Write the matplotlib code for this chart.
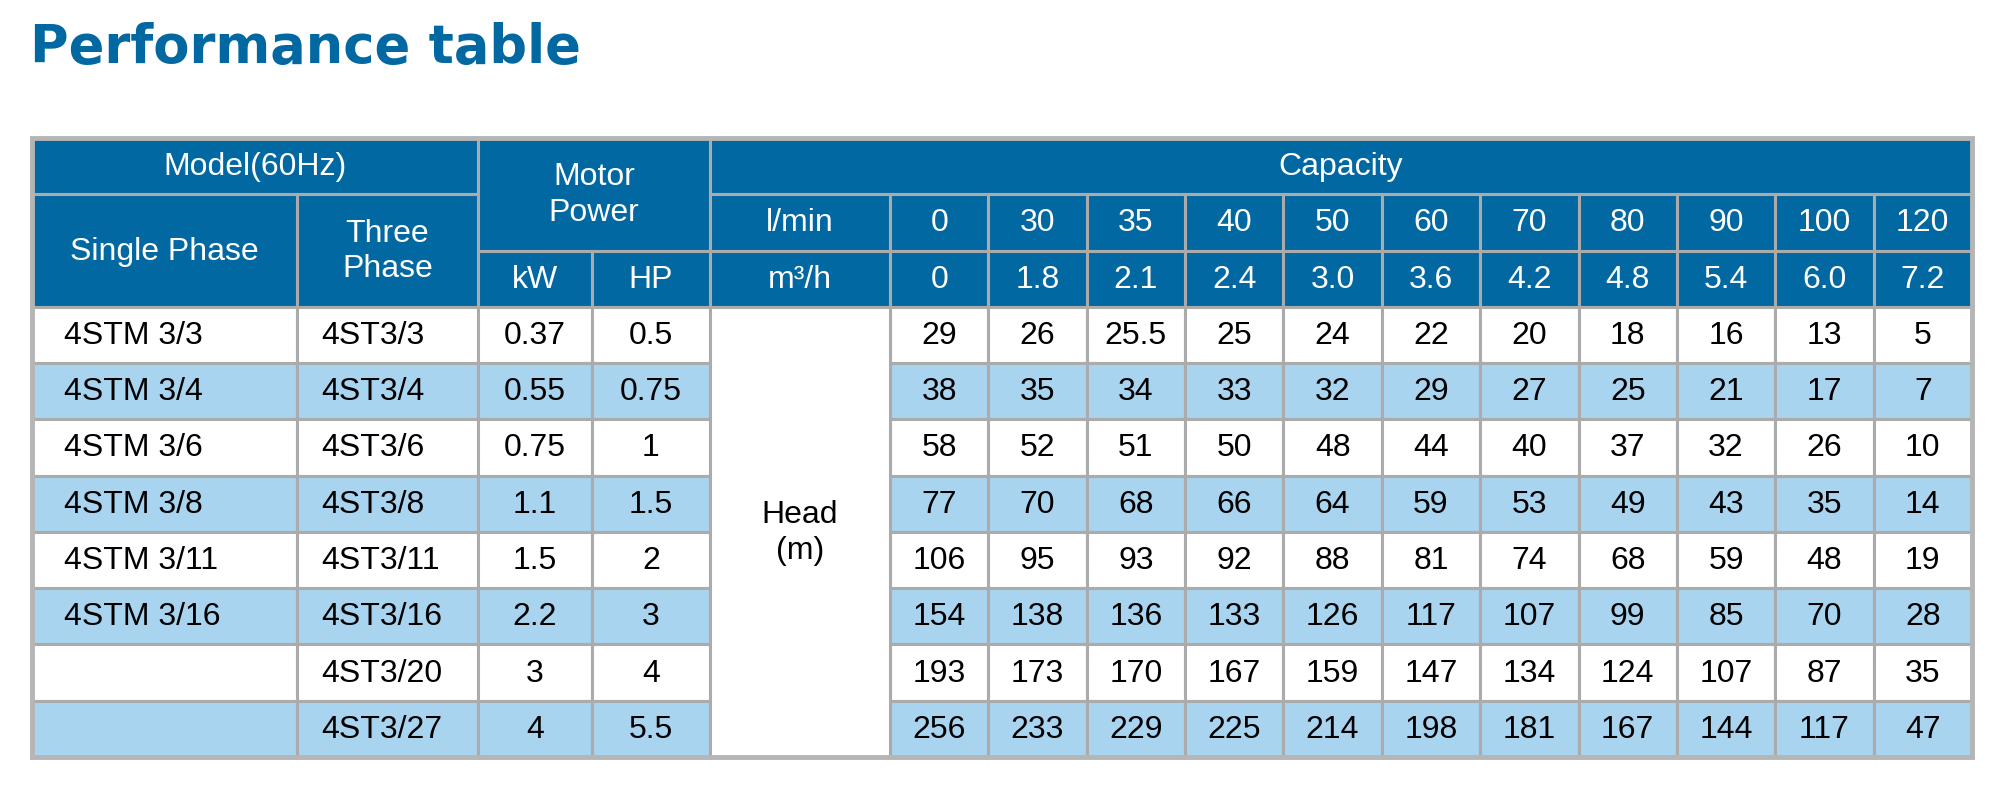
import matplotlib.pyplot as plt
from matplotlib.patches import Rectangle

# --- data ---
single_phase = ['4STM 3/3', '4STM 3/4', '4STM 3/6', '4STM 3/8',
                '4STM 3/11', '4STM 3/16', '', '']
three_phase = ['4ST3/3', '4ST3/4', '4ST3/6', '4ST3/8',
               '4ST3/11', '4ST3/16', '4ST3/20', '4ST3/27']
kw = ['0.37', '0.55', '0.75', '1.1', '1.5', '2.2', '3', '4']
hp = ['0.5', '0.75', '1', '1.5', '2', '3', '4', '5.5']
l_min = ['0', '30', '35', '40', '50', '60', '70', '80', '90', '100', '120']
m3_h = ['0', '1.8', '2.1', '2.4', '3.0', '3.6', '4.2', '4.8', '5.4', '6.0', '7.2']
head = [
    ['29', '26', '25.5', '25', '24', '22', '20', '18', '16', '13', '5'],
    ['38', '35', '34', '33', '32', '29', '27', '25', '21', '17', '7'],
    ['58', '52', '51', '50', '48', '44', '40', '37', '32', '26', '10'],
    ['77', '70', '68', '66', '64', '59', '53', '49', '43', '35', '14'],
    ['106', '95', '93', '92', '88', '81', '74', '68', '59', '48', '19'],
    ['154', '138', '136', '133', '126', '117', '107', '99', '85', '70', '28'],
    ['193', '173', '170', '167', '159', '147', '134', '124', '107', '87', '35'],
    ['256', '233', '229', '225', '214', '198', '181', '167', '144', '117', '47'],
]

# --- style ---
AZUL = '#0268A2'
AZUL_CLARO = '#A9D4EF'
CINZA = '#ABABAB'
FONTE = 'Liberation Sans'
TAM = 23

W, H = 1996, 795
fig = plt.figure(figsize=(W / 100, H / 100), dpi=100)
ax = fig.add_axes([0, 0, 1, 1])
ax.set_xlim(0, W)
ax.set_ylim(H, 0)
ax.axis('off')

# column edges (pixels)
x0 = 32
larguras = [265, 181, 114, 118, 180] + [98.36] * len(l_min)
xs = [x0]
for w in larguras:
    xs.append(xs[-1] + w)
y0 = 138
alt = 56.27
n_linhas = 3 + len(three_phase)
ys = [y0 + i * alt for i in range(n_linhas + 1)]


def celula(c0, c1, r0, r1, texto='', cor='white', cor_txt='black',
           ha='center', pad=0):
    xa, xb = xs[c0], xs[c1]
    ya, yb = ys[r0], ys[r1]
    ax.add_patch(Rectangle((xa, ya), xb - xa, yb - ya, facecolor=cor,
                           edgecolor=CINZA, linewidth=2.2, zorder=1))
    if texto:
        tx = (xa + xb) / 2 if ha == 'center' else xa + pad
        ax.text(tx, (ya + yb) / 2 + 1, texto, ha=ha, va='center',
                color=cor_txt, fontsize=TAM, family=FONTE, zorder=3,
                linespacing=1.25)


# header
celula(0, 2, 0, 1, 'Model(60Hz)', AZUL, 'white')
celula(0, 1, 1, 3, 'Single Phase', AZUL, 'white')
celula(1, 2, 1, 3, 'Three\nPhase', AZUL, 'white')
celula(2, 4, 0, 2, 'Motor\nPower', AZUL, 'white')
celula(2, 3, 2, 3, 'kW', AZUL, 'white')
celula(3, 4, 2, 3, 'HP', AZUL, 'white')
celula(4, 5 + len(l_min), 0, 1, 'Capacity', AZUL, 'white')
celula(4, 5, 1, 2, 'l/min', AZUL, 'white')
celula(4, 5, 2, 3, 'm³/h', AZUL, 'white')
for j, (a, b) in enumerate(zip(l_min, m3_h)):
    celula(5 + j, 6 + j, 1, 2, a, AZUL, 'white')
    celula(5 + j, 6 + j, 2, 3, b, AZUL, 'white')

# body
for i in range(len(three_phase)):
    r = 3 + i
    fundo = 'white' if i % 2 == 0 else AZUL_CLARO
    celula(0, 1, r, r + 1, single_phase[i], fundo, ha='left', pad=32)
    celula(1, 2, r, r + 1, three_phase[i], fundo, ha='left', pad=24)
    celula(2, 3, r, r + 1, kw[i], fundo)
    celula(3, 4, r, r + 1, hp[i], fundo)
    for j, v in enumerate(head[i]):
        celula(5 + j, 6 + j, r, r + 1, v, fundo)
celula(4, 5, 3, n_linhas, 'Head\n(m)', 'white')

# outer border
ax.add_patch(Rectangle((xs[0], ys[0]), xs[-1] - xs[0], ys[-1] - ys[0],
                       facecolor='none', edgecolor='#B5B5B5', linewidth=3.5,
                       zorder=4))

ax.text(30, 63, 'Performance table', ha='left', va='baseline', color=AZUL,
        fontsize=38, family='DejaVu Sans', fontweight='bold')

fig.savefig('out.png', dpi=100)
